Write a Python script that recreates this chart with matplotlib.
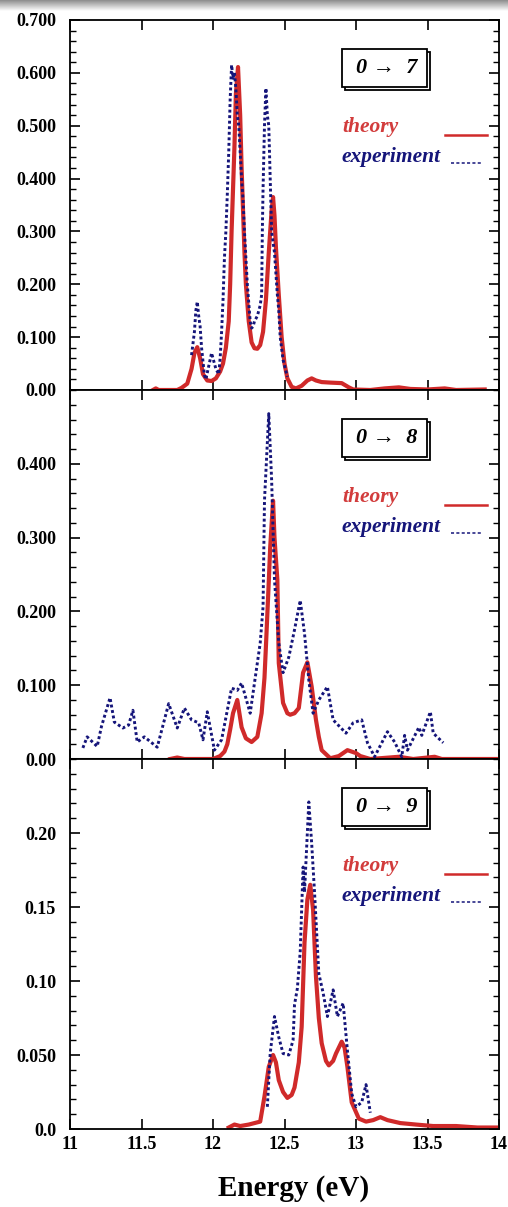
import numpy as np
import matplotlib
matplotlib.use("Agg")
import matplotlib.pyplot as plt
from matplotlib.patches import Rectangle
from matplotlib.ticker import MultipleLocator

plt.rcParams['font.family'] = ['Liberation Serif', 'DejaVu Serif']

# ---- 0 -> 7 band ----
e07_theory = [11.58, 11.60, 11.62, 11.75, 11.78, 11.82, 11.85, 11.87, 11.89, 11.91, 11.93, 11.96,
              11.99, 12.02, 12.05, 12.07, 12.09, 12.11, 12.12, 12.13, 12.14, 12.15, 12.16, 12.175,
              12.19, 12.20, 12.21, 12.22, 12.23, 12.25, 12.27, 12.29, 12.31, 12.33, 12.35, 12.37,
              12.39, 12.41, 12.42, 12.43, 12.44, 12.46, 12.48, 12.50, 12.52, 12.55, 12.58, 12.62,
              12.66, 12.69, 12.72, 12.76, 12.82, 12.90, 12.95, 12.98, 13.10, 13.20, 13.30, 13.38,
              13.50, 13.62, 13.70, 13.90]
i07_theory = [0.0, 0.003, 0.0, 0.0, 0.004, 0.012, 0.040, 0.070, 0.081, 0.060, 0.030, 0.018,
              0.017, 0.022, 0.035, 0.050, 0.080, 0.130, 0.200, 0.300, 0.380, 0.460, 0.560, 0.611,
              0.520, 0.420, 0.340, 0.260, 0.200, 0.130, 0.090, 0.079, 0.078, 0.085, 0.110, 0.170,
              0.260, 0.340, 0.365, 0.330, 0.270, 0.180, 0.100, 0.050, 0.022, 0.006, 0.003, 0.008,
              0.018, 0.022, 0.018, 0.015, 0.014, 0.013, 0.005, 0.001, 0.0, 0.003, 0.005, 0.002,
              0.001, 0.003, 0.0, 0.001]
e07_exp = [11.85, 11.87, 11.88, 11.89, 11.90, 11.91, 11.92, 11.94, 11.95, 11.97, 11.99, 12.00,
           12.02, 12.04, 12.05, 12.06, 12.07, 12.08, 12.09, 12.10, 12.11, 12.12, 12.13, 12.14,
           12.15, 12.16, 12.17, 12.18, 12.19, 12.20, 12.21, 12.22, 12.23, 12.24, 12.26, 12.27,
           12.28, 12.29, 12.31, 12.33, 12.34, 12.345, 12.35, 12.36, 12.37, 12.38, 12.39, 12.40,
           12.41, 12.42, 12.43, 12.44, 12.45, 12.46, 12.47, 12.49, 12.52]
i07_exp = [0.066, 0.110, 0.150, 0.167, 0.140, 0.120, 0.080, 0.028, 0.020, 0.045, 0.070, 0.060,
           0.040, 0.030, 0.060, 0.110, 0.170, 0.250, 0.300, 0.370, 0.450, 0.550, 0.615, 0.590,
           0.600, 0.570, 0.520, 0.500, 0.450, 0.400, 0.360, 0.300, 0.250, 0.200, 0.130, 0.117,
           0.120, 0.130, 0.140, 0.160, 0.180, 0.300, 0.380, 0.500, 0.571, 0.520, 0.500, 0.400,
           0.300, 0.280, 0.260, 0.220, 0.180, 0.150, 0.100, 0.057, 0.025]

# ---- 0 -> 8 band ----
e08_theory = [11.70, 11.75, 11.80, 12.00, 12.05, 12.08, 12.10, 12.12, 12.14, 12.17, 12.20, 12.23,
              12.27, 12.31, 12.34, 12.36, 12.37, 12.39, 12.40, 12.42, 12.43, 12.45, 12.46, 12.49,
              12.52, 12.54, 12.57, 12.60, 12.63, 12.66, 12.69, 12.72, 12.74, 12.76, 12.82, 12.88,
              12.94, 13.00, 13.03, 13.10, 13.30, 13.40, 13.55, 13.60, 14.00]
i08_theory = [0.0, 0.002, 0.0, 0.0, 0.004, 0.010, 0.020, 0.040, 0.062, 0.080, 0.043, 0.028,
              0.023, 0.030, 0.062, 0.110, 0.152, 0.240, 0.287, 0.350, 0.300, 0.243, 0.130, 0.076,
              0.062, 0.060, 0.062, 0.069, 0.117, 0.131, 0.098, 0.053, 0.030, 0.012, 0.001, 0.004,
              0.012, 0.008, 0.004, 0.0, 0.003, 0.0, 0.003, 0.0, 0.0]
e08_exp = [11.09, 11.12, 11.19, 11.22, 11.28, 11.31, 11.37, 11.41, 11.44, 11.47, 11.52, 11.61,
           11.69, 11.75, 11.80, 11.85, 11.90, 11.93, 11.96, 11.98, 12.01, 12.06, 12.13, 12.17,
           12.20, 12.26, 12.29, 12.33, 12.35, 12.36, 12.39, 12.41, 12.43, 12.46, 12.49, 12.53,
           12.57, 12.61, 12.64, 12.67, 12.70, 12.74, 12.80, 12.84, 12.93, 12.98, 13.04, 13.08,
           13.13, 13.22, 13.27, 13.32, 13.34, 13.36, 13.44, 13.46, 13.52, 13.54, 13.61]
i08_exp = [0.015, 0.030, 0.017, 0.044, 0.083, 0.050, 0.042, 0.046, 0.066, 0.023, 0.030, 0.016,
           0.075, 0.042, 0.069, 0.053, 0.049, 0.026, 0.064, 0.043, 0.012, 0.026, 0.096, 0.093,
           0.103, 0.062, 0.103, 0.157, 0.206, 0.350, 0.468, 0.378, 0.243, 0.157, 0.117, 0.138,
           0.175, 0.215, 0.170, 0.107, 0.062, 0.080, 0.098, 0.053, 0.035, 0.049, 0.053, 0.022,
           0.003, 0.037, 0.023, 0.003, 0.032, 0.012, 0.043, 0.032, 0.064, 0.035, 0.022]

# ---- 0 -> 9 band ----
e09_theory = [12.11, 12.15, 12.19, 12.25, 12.33, 12.36, 12.39, 12.42, 12.44, 12.46, 12.49, 12.52,
              12.55, 12.57, 12.60, 12.62, 12.64, 12.66, 12.68, 12.70, 12.72, 12.74, 12.76, 12.79,
              12.81, 12.84, 12.86, 12.90, 12.92, 12.94, 12.97, 13.02, 13.07, 13.12, 13.17, 13.22,
              13.31, 13.42, 13.54, 13.70, 13.85, 14.00]
i09_theory = [0.001, 0.003, 0.002, 0.003, 0.005, 0.022, 0.042, 0.050, 0.045, 0.033, 0.025, 0.021,
              0.023, 0.028, 0.045, 0.069, 0.126, 0.155, 0.165, 0.148, 0.103, 0.075, 0.058, 0.046,
              0.043, 0.046, 0.051, 0.059, 0.055, 0.042, 0.018, 0.007, 0.005, 0.006, 0.008, 0.006,
              0.004, 0.003, 0.002, 0.002, 0.001, 0.001]
e09_exp = [12.38, 12.40, 12.43, 12.46, 12.49, 12.53, 12.56, 12.57, 12.59, 12.61, 12.63, 12.64,
           12.67, 12.69, 12.71, 12.74, 12.77, 12.80, 12.84, 12.87, 12.91, 12.94, 12.97, 13.00,
           13.04, 13.07, 13.10]
i09_exp = [0.015, 0.051, 0.076, 0.062, 0.051, 0.050, 0.060, 0.084, 0.095, 0.120, 0.177, 0.160,
           0.221, 0.193, 0.160, 0.105, 0.092, 0.076, 0.094, 0.076, 0.085, 0.053, 0.024, 0.015,
           0.018, 0.030, 0.011]

band_labels = ['0 \u2192  7', '0 \u2192  8', '0 \u2192  9']
y_limits = [0.7, 0.5, 0.25]
y_ticks = [[0.0, 0.1, 0.2, 0.3, 0.4, 0.5, 0.6, 0.7],
           [0.0, 0.1, 0.2, 0.3, 0.4],
           [0.0, 0.05, 0.10, 0.15, 0.20]]
y_ticklabels = [['0.00', '0.100', '0.200', '0.300', '0.400', '0.500', '0.600', '0.700'],
                ['0.00', '0.100', '0.200', '0.300', '0.400'],
                ['0.0', '0.050', '0.10', '0.15', '0.20']]
y_minor = [0.02, 0.02, 0.01]
x_ticks = [11, 11.5, 12, 12.5, 13, 13.5, 14]
x_ticklabels = ['11', '11.5', '12', '12.5', '13', '13.5', '14']

theory = [(e07_theory, i07_theory), (e08_theory, i08_theory), (e09_theory, i09_theory)]
experiment = [(e07_exp, i07_exp), (e08_exp, i08_exp), (e09_exp, i09_exp)]

RED = '#d02a2a'
NAVY = '#15157a'

W, H = 508, 1207
fig = plt.figure(figsize=(W / 100, H / 100), dpi=100)
fig.patch.set_facecolor('white')

left, right = 70, 499
panel_px = [(20, 390), (390, 759), (759, 1129)]

for k, (top, bot) in enumerate(panel_px):
    ax = fig.add_axes([left / W, (H - bot) / H, (right - left) / W, (bot - top) / H])
    ax.set_xlim(11, 14)
    ax.set_ylim(0, y_limits[k])

    et, it = theory[k]
    ee, ie = experiment[k]
    ax.plot(et, it, color=RED, lw=3.0, solid_joinstyle='round', zorder=3)
    ax.plot(ee, ie, color=NAVY, lw=2.1, linestyle=(0, (1, 0.9)), zorder=4)

    if k == 1:
        ax.axhline(0, color='black', lw=2.2, zorder=5)

    for sp in ax.spines.values():
        sp.set_linewidth(1.3)
        sp.set_zorder(6)

    ax.set_yticks(y_ticks[k])
    ax.set_yticklabels(y_ticklabels[k], fontsize=13, fontweight='bold')
    ax.yaxis.set_minor_locator(MultipleLocator(y_minor[k]))
    ax.set_xticks(x_ticks)
    if k == 2:
        ax.set_xticklabels(x_ticklabels, fontsize=13, fontweight='bold')
    else:
        ax.set_xticklabels([])
    ax.tick_params(axis='both', which='major', direction='in', length=7, width=1.2,
                   top=True, right=True, pad=5)
    ax.tick_params(axis='y', which='minor', direction='in', length=4, width=1.0,
                   left=True, right=True)
    ax.tick_params(axis='y', which='major', pad=10)

    # band label box with offset shadow frame
    bx0, bx1 = (342 - left) / (right - left), (427 - left) / (right - left)
    ph = bot - top
    by1 = 1 - 29 / ph
    by0 = 1 - 67 / ph
    dx = 3 / (right - left)
    dy = 3 / ph
    ax.add_patch(Rectangle((bx0 + dx, by0 - dy), bx1 - bx0, by1 - by0, transform=ax.transAxes,
                           facecolor='white', edgecolor='black', lw=1.3, zorder=7))
    ax.add_patch(Rectangle((bx0, by0), bx1 - bx0, by1 - by0, transform=ax.transAxes,
                           facecolor='white', edgecolor='black', lw=1.3, zorder=8))
    ax.text((bx0 + bx1) / 2 + 0.005, (by0 + by1) / 2, band_labels[k], transform=ax.transAxes,
            ha='center', va='center', fontsize=16, style='italic', fontweight='bold',
            zorder=9, family=['Liberation Serif', 'DejaVu Serif'])

    # key entries
    tx = (342 - left) / (right - left)
    ax.text(tx, 1 - 107 / ph, 'theory', transform=ax.transAxes, color='#d23c3c',
            fontsize=15.5, style='italic', fontweight='bold', ha='left', va='center', zorder=9)
    ax.text(tx, 1 - 137 / ph, 'experiment', transform=ax.transAxes, color=NAVY,
            fontsize=15.5, style='italic', fontweight='bold', ha='left', va='center', zorder=9)
    ax.plot([(445 - left) / (right - left), (487 - left) / (right - left)],
            [1 - 115 / ph] * 2, transform=ax.transAxes, color=RED, lw=1.8, zorder=9)
    ax.plot([(451 - left) / (right - left), (482 - left) / (right - left)],
            [1 - 143 / ph] * 2, transform=ax.transAxes, color=NAVY, lw=1.1,
            linestyle=(0, (2, 1.5)), zorder=9)

fig.text(0.578, 1 - 1188 / H, 'Energy (eV)', ha='center', va='center',
         fontsize=21, fontweight='bold')

# soft grey band along the top edge
band = fig.add_axes([0, 1 - 11 / H, 1, 11 / H])
grad = np.linspace(0.55, 1.0, 64).reshape(-1, 1)
band.imshow(grad, aspect='auto', cmap='gray', vmin=0, vmax=1, extent=[0, 1, 0, 1])
band.set_axis_off()

fig.savefig('out.png', dpi=100, facecolor='white')
